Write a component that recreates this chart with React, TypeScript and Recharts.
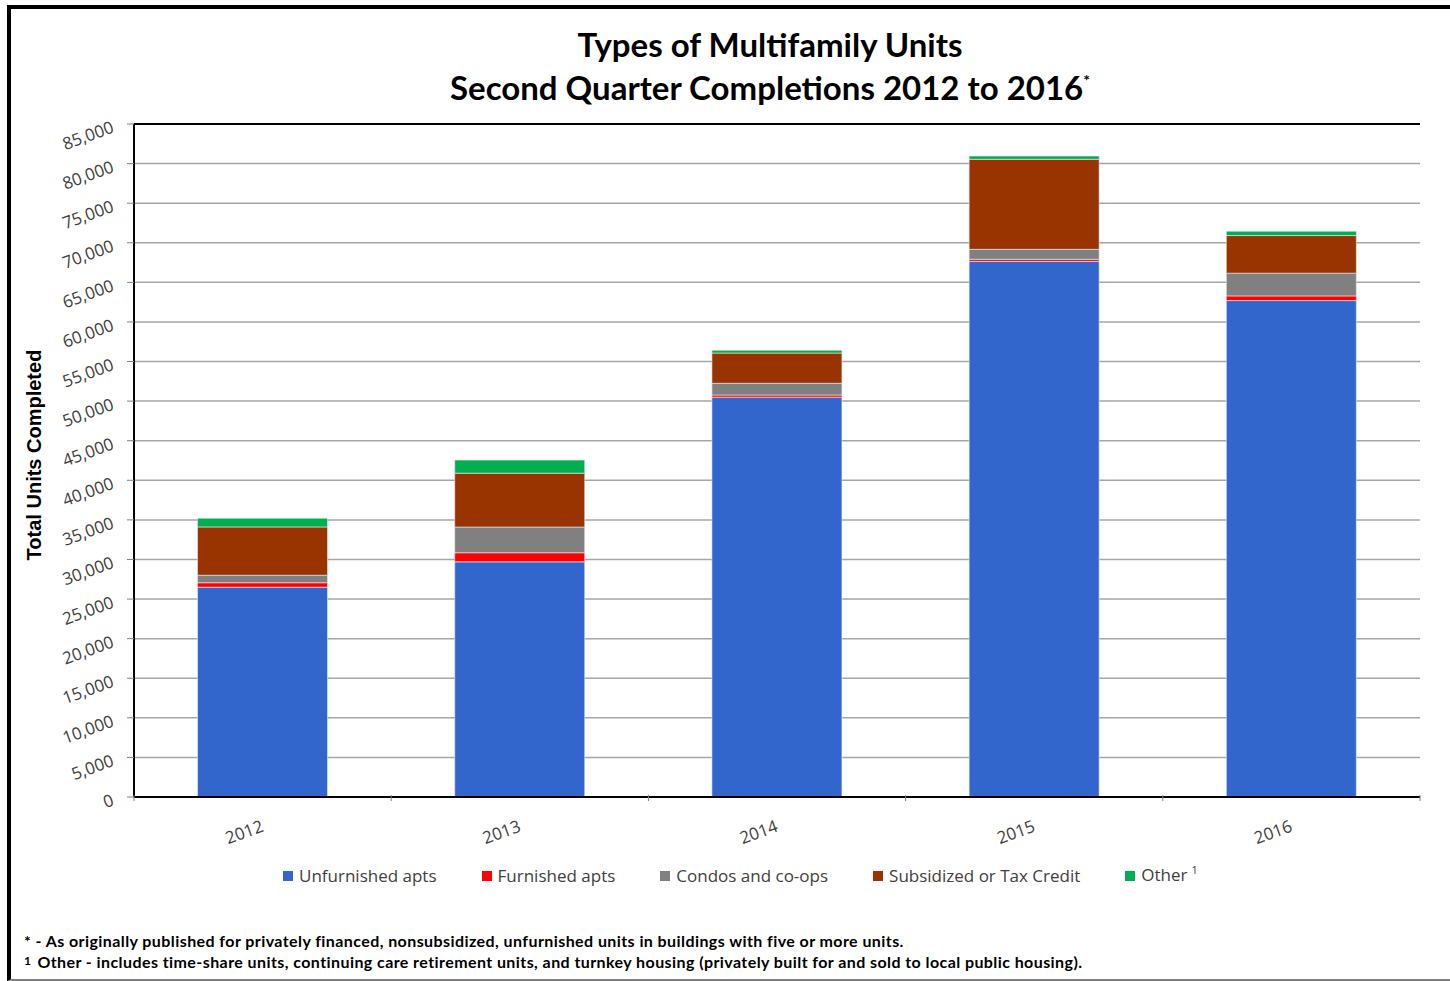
import React from "react";
import {
  BarChart,
  Bar,
  XAxis,
  YAxis,
  CartesianGrid,
  ReferenceLine,
} from "recharts";

const years = ["2012", "2013", "2014", "2015", "2016"];
const unfurnished = [26500, 29700, 50500, 67650, 62700];
const furnished = [560, 1150, 270, 260, 590];
const condos = [950, 3250, 1480, 1260, 2870];
const subsidized = [6100, 6800, 3820, 11370, 4750];
const other = [1100, 1650, 340, 410, 550];
const yTicks = [0, 5000, 10000, 15000, 20000, 25000, 30000, 35000, 40000, 45000, 50000, 55000, 60000, 65000, 70000, 75000, 80000, 85000];

const series = [
  { key: "unfurnished", name: "Unfurnished apts", color: "#3366CC" },
  { key: "furnished", name: "Furnished apts", color: "#FF0000" },
  { key: "condos", name: "Condos and co-ops", color: "#808080" },
  { key: "subsidized", name: "Subsidized or Tax Credit", color: "#993300" },
  { key: "other", name: "Other", color: "#00B050", sup: "1" },
];

const data = years.map((year, i) => ({
  year,
  unfurnished: unfurnished[i],
  furnished: furnished[i],
  condos: condos[i],
  subsidized: subsidized[i],
  other: other[i],
}));

const tickText = "#404040";

function YTick(props: any) {
  const { x, y, payload } = props;
  return (
    <g transform={`translate(${x - 10},${y + 8})`}>
      <text
        textAnchor="end"
        transform="rotate(-20)"
        fontFamily="'Open Sans', sans-serif"
        fontSize={17}
        fill={tickText}
      >
        {payload.value.toLocaleString("en-US")}
      </text>
    </g>
  );
}

function XTick(props: any) {
  const { x, y, payload, index } = props;
  const half = payload.offset || 128.6;
  return (
    <g>
      <line x1={x - half} x2={x - half} y1={y - 10} y2={y - 4} stroke="#808080" />
      {index === years.length - 1 && (
        <line x1={x + half} x2={x + half} y1={y - 10} y2={y - 4} stroke="#808080" />
      )}
      <g transform={`translate(${x + 2},${y + 26})`}>
        <text
          textAnchor="end"
          transform="rotate(-20)"
          fontFamily="'Open Sans', sans-serif"
          fontSize={17}
          fill={tickText}
        >
          {payload.value}
        </text>
      </g>
    </g>
  );
}

function LegendRow() {
  return (
    <div
      style={{
        position: "absolute",
        top: 863,
        left: 283,
        display: "flex",
        fontFamily: "'Open Sans', sans-serif",
        fontSize: 17,
        lineHeight: "24px",
        color: tickText,
        whiteSpace: "nowrap",
      }}
    >
      {series.map((s) => (
        <div key={s.key} style={{ display: "flex", alignItems: "center", marginRight: 45 }}>
          <span style={{ width: 10, height: 10, background: s.color, marginRight: 6 }} />
          <span>
            {s.name}
            {s.sup && (
              <span style={{ fontSize: 11, position: "relative", top: -7, marginLeft: 4 }}>{s.sup}</span>
            )}
          </span>
        </div>
      ))}
    </div>
  );
}

export default function App() {
  return (
    <div
      style={{
        position: "absolute",
        left: 0,
        top: 0,
        width: 1450,
        height: 981,
        background: "#fff",
        overflow: "hidden",
      }}
    >
      <div
        style={{
          position: "absolute",
          left: 7,
          top: 5,
          width: 1460,
          height: 970,
          borderTop: "4px solid #000",
          borderLeft: "4px solid #000",
          borderBottom: "2px solid #808080",
        }}
      />
      <div
        style={{
          position: "absolute",
          top: 23,
          left: 0,
          width: 1540,
          textAlign: "center",
          fontFamily: "Lato, sans-serif",
          fontWeight: 700,
          fontSize: 33,
          lineHeight: "43px",
          color: "#000",
        }}
      >
        <div>Types of Multifamily Units</div>
        <div>
          Second Quarter Completions 2012 to 2016
          <span style={{ fontSize: 16, position: "relative", top: -14, lineHeight: 0 }}>*</span>
        </div>
      </div>
      <div
        style={{
          position: "absolute",
          left: 34,
          top: 455,
          transform: "translate(-50%, -50%) rotate(-90deg)",
          fontFamily: "'Liberation Sans', Arial, sans-serif",
          fontWeight: 700,
          fontSize: 20,
          whiteSpace: "nowrap",
        }}
      >
        Total Units Completed
      </div>
      <BarChart
        width={1450}
        height={981}
        data={data}
        margin={{ top: 124, right: 30, bottom: 134, left: 64 }}
        barCategoryGap="24.7%"
        style={{ position: "absolute", left: 0, top: 0 }}
      >
        <CartesianGrid vertical={false} stroke="#a6a6a6" strokeWidth={1.5} />
        <XAxis
          dataKey="year"
          height={50}
          tickLine={false}
          axisLine={{ stroke: "#000", strokeWidth: 2 }}
          tick={<XTick />}
          interval={0}
        />
        <YAxis
          width={70}
          domain={[0, 85000]}
          ticks={yTicks}
          interval={0}
          tickSize={7}
          tickLine={{ stroke: "#808080" }}
          axisLine={{ stroke: "#000", strokeWidth: 2 }}
          tick={<YTick />}
        />
        <YAxis
          yAxisId="right"
          orientation="right"
          width={0}
          domain={[0, 85000]}
          tick={false}
          tickLine={false}
          axisLine={{ stroke: "#000", strokeWidth: 2 }}
        />
        <ReferenceLine y={85000} stroke="#000" strokeWidth={2} />
        {series.map((s) => (
          <Bar
            key={s.key}
            dataKey={s.key}
            name={s.name}
            stackId="a"
            fill={s.color}
            stroke="#e6ecf7"
            strokeWidth={0.6}
            isAnimationActive={false}
          />
        ))}
      </BarChart>
      <LegendRow />
      <div
        style={{
          position: "absolute",
          left: 24,
          top: 930,
          fontFamily: "Lato, sans-serif",
          fontWeight: 700,
          fontSize: 16,
          letterSpacing: 0.42,
          lineHeight: "21px",
          color: "#000",
          whiteSpace: "nowrap",
        }}
      >
        <div>* - As originally published for privately financed, nonsubsidized, unfurnished units in buildings with five or more units.</div>
        <div>
          <span style={{ fontSize: 12, position: "relative", top: -3, marginRight: 6 }}>1</span>
          Other - includes time-share units, continuing care retirement units, and turnkey housing (privately built for and sold to local public housing).
        </div>
      </div>
    </div>
  );
}
